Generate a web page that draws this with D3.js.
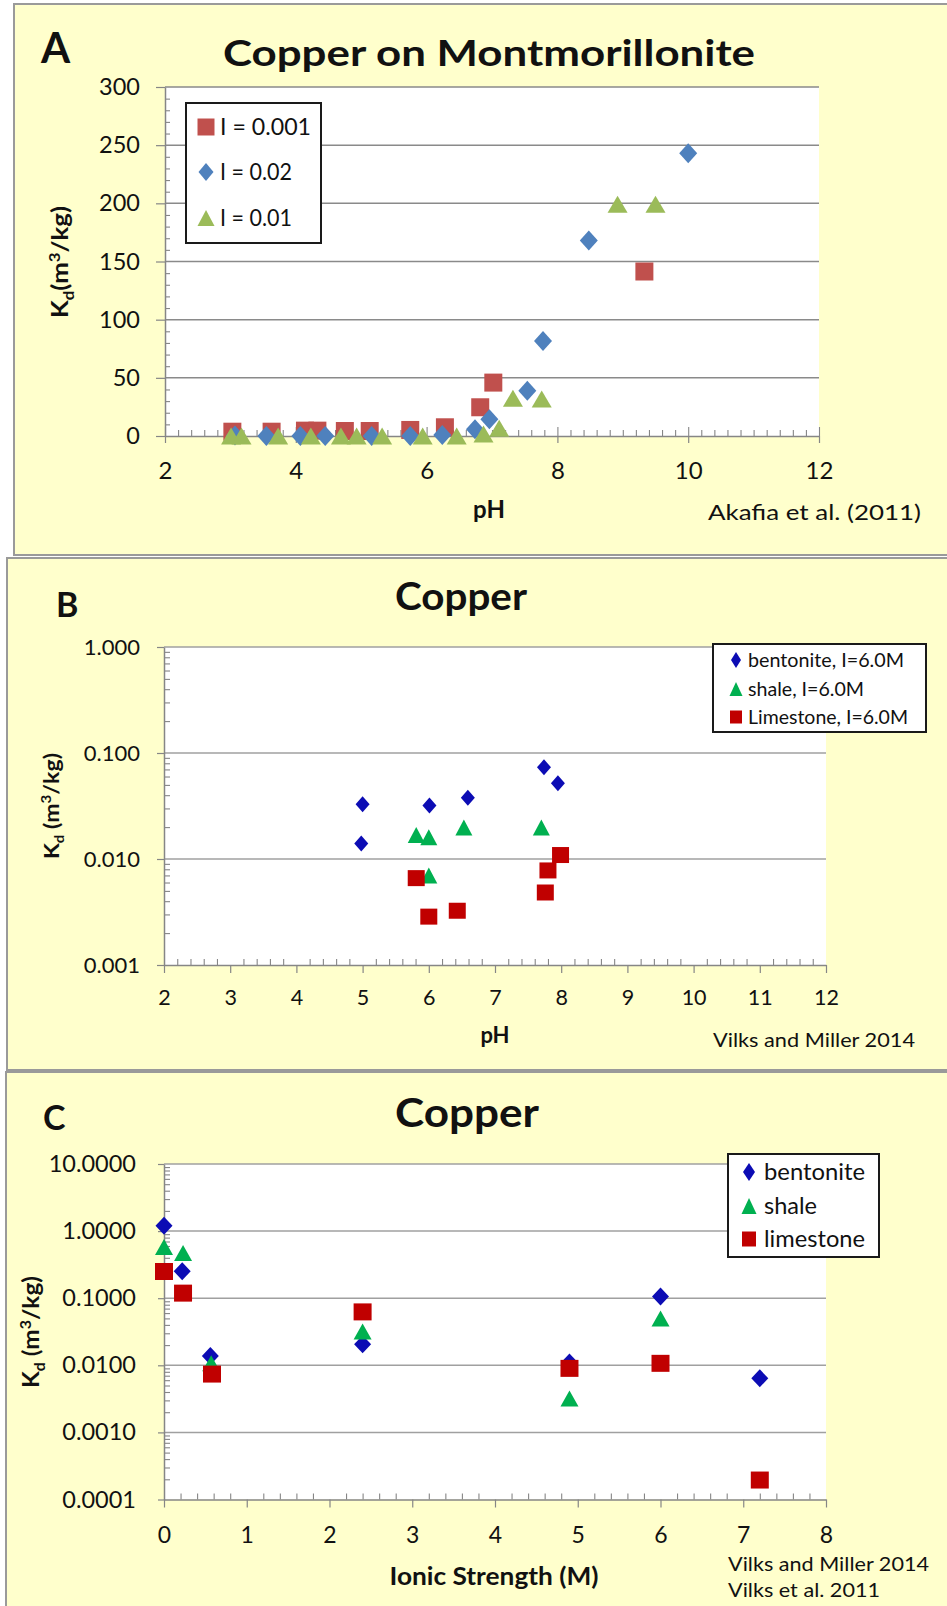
<!DOCTYPE html>
<html>
<head>
<meta charset="utf-8">
<script src="https://cdn.jsdelivr.net/npm/d3@7"></script>
<style>
  body { margin: 0; background: #ffffff; }
  svg { display: block; }
</style>
</head>
<body>
<svg id="fig" width="947" height="1606"></svg>
<script>
// ---------- Panel A: Copper on Montmorillonite (Akafia et al. 2011) ----------
const phA_I001 = [3.03, 3.63, 4.14, 4.33, 4.75, 5.13, 5.75, 6.28, 6.82, 7.02, 9.33];
const kdA_I001 = [3.7, 3.7, 4.6, 4.6, 4.3, 4.3, 5.2, 7.5, 24.7, 45.9, 141.4];
const phA_I002 = [3.07, 3.55, 4.07, 4.45, 5.16, 5.75, 6.24, 6.74, 6.96, 7.54, 7.78, 8.48, 10.0];
const kdA_I002 = [0.5, 0, 0, 0, 0, 0, 0.8, 5.7, 14.3, 39, 81.7, 168, 243];
const phA_I01 = [3.01, 3.17, 3.73, 4.23, 4.69, 4.93, 5.32, 5.94, 6.46, 6.87, 7.11, 7.32, 7.76, 8.92, 9.50];
const kdA_I01 = [0, 0, 0, 0, 0, 0, 0, 0, 0, 1.7, 6.6, 32.4, 31.8, 199.3, 199.3];
const xTicksA = [2, 4, 6, 8, 10, 12];
const yTicksA = [0, 50, 100, 150, 200, 250, 300];
const legendA = ["I = 0.001", "I = 0.02", "I = 0.01"];

// ---------- Panel B: Copper vs pH at I = 6.0 M (Vilks and Miller 2014) ----------
const phB_bentonite = [5.0, 4.98, 6.01, 6.59, 7.74, 7.95];
const kdB_bentonite = [0.0328, 0.0140, 0.0319, 0.0379, 0.0733, 0.0518];
const phB_shale = [5.81, 6.0, 6.53, 7.70, 6.0];
const kdB_shale = [0.0168, 0.0160, 0.0198, 0.0198, 0.0070];
const phB_limestone = [5.81, 6.0, 6.43, 7.76, 7.80, 7.99];
const kdB_limestone = [0.0066, 0.00286, 0.00325, 0.00483, 0.0078, 0.0109];
const xTicksB = [2, 3, 4, 5, 6, 7, 8, 9, 10, 11, 12];
const yTicksB = [0.001, 0.01, 0.1, 1];
const yLabelsB = ["0.001", "0.010", "0.100", "1.000"];
const legendB = ["bentonite, I=6.0M", "shale, I=6.0M", "Limestone, I=6.0M"];

// ---------- Panel C: Copper vs ionic strength ----------
const isC_bentonite = [0, 0.22, 0.56, 2.4, 4.9, 6.0, 7.2];
const kdC_bentonite = [1.2, 0.253, 0.0138, 0.0206, 0.011, 0.106, 0.0064];
const isC_shale = [0, 0.23, 0.57, 2.4, 4.9, 6.0];
const kdC_shale = [0.58, 0.47, 0.0107, 0.0318, 0.0032, 0.050];
const isC_limestone = [0, 0.23, 0.58, 2.4, 4.9, 6.0, 7.2];
const kdC_limestone = [0.25, 0.119, 0.0074, 0.0625, 0.009, 0.0107, 0.000195];
const xTicksC = [0, 1, 2, 3, 4, 5, 6, 7, 8];
const yTicksC = [0.0001, 0.001, 0.01, 0.1, 1, 10];
const yLabelsC = ["0.0001", "0.0010", "0.0100", "0.1000", "1.0000", "10.0000"];
const legendC = ["bentonite", "shale", "limestone"];

const FONT = "Lato, 'Open Sans', 'DejaVu Sans', sans-serif";
const BG = "#FFFFCC";
const AXIS = "#868686";
const GRID = "#A0A0A0";
const TXT = "#111111";

const svg = d3.select("#fig");
svg.append("rect").attr("width", 947).attr("height", 1606).attr("fill", "#ffffff");

// panel frames
[[14, 4, 960, 551], [7, 558, 960, 512], [6, 1072, 960, 560]].forEach(([x, y, w, h]) => {
  svg.append("rect").attr("x", x).attr("y", y).attr("width", w).attr("height", h)
    .attr("fill", BG).attr("stroke", "#9a9a9a").attr("stroke-width", 2);
});

function markerPath(shape, w, h) {
  const a = w / 2, b = h / 2;
  if (shape === "square") return `M${-a},${-b}H${a}V${b}H${-a}Z`;
  if (shape === "diamond") return `M0,${-b}L${a},0L0,${b}L${-a},0Z`;
  return `M0,${-b}L${a},${b}L${-a},${b}Z`;
}

function drawSeries(g, xs, ys, x, y, shape, w, h, color) {
  g.append("g").selectAll("path").data(d3.zip(xs, ys)).join("path")
    .attr("d", markerPath(shape, w, h))
    .attr("transform", d => `translate(${x(d[0])},${y(d[1])})`)
    .attr("fill", color);
}

function styleAxis(g, fs, weight) {
  g.attr("font-family", FONT).attr("font-size", fs);
  g.selectAll("path.domain").attr("stroke", AXIS).attr("stroke-width", 1.5);
  g.selectAll(".tick line").attr("stroke", AXIS).attr("stroke-width", 1.2);
  g.selectAll("text").attr("fill", TXT).attr("font-weight", weight || 400);
}

function minorAxis(g, axis) {
  g.call(axis);
  g.select("path.domain").remove();
  g.selectAll("text").remove();
  g.selectAll(".tick line").attr("stroke", AXIS).attr("stroke-width", 1.1);
}

function text(g, str, x, y, fs, opts = {}) {
  const t = g.append("text").attr("x", x).attr("y", y)
    .attr("font-family", FONT).attr("font-size", fs)
    .attr("font-weight", opts.weight || 400)
    .attr("fill", opts.fill || TXT)
    .attr("text-anchor", opts.anchor || "start")
    .text(str);
  if (opts.len) t.attr("textLength", opts.len).attr("lengthAdjust", "spacingAndGlyphs");
  return t;
}

// rotated "Kd (m3/kg)" with subscript/superscript
function kdLabel(g, cx, cy, fs, gap, len) {
  const t = g.append("text").attr("transform", `translate(${cx},${cy}) rotate(-90)`)
    .attr("text-anchor", "middle").attr("font-family", FONT).attr("font-size", fs)
    .attr("font-weight", 700).attr("fill", TXT)
    .attr("textLength", len).attr("lengthAdjust", "spacingAndGlyphs");
  t.append("tspan").text("K");
  t.append("tspan").attr("dy", fs * 0.25).attr("font-size", fs * 0.65).text("d");
  t.append("tspan").attr("dy", -fs * 0.25).text(gap + "(m");
  t.append("tspan").attr("dy", -fs * 0.38).attr("font-size", fs * 0.65).text("3");
  t.append("tspan").attr("dy", fs * 0.38).text("/kg)");
  return t;
}

function legendBox(g, x0, y0, w, h, entries, fs, textX) {
  g.append("rect").attr("x", x0).attr("y", y0).attr("width", w).attr("height", h)
    .attr("fill", "#ffffff").attr("stroke", "#1a1a1a").attr("stroke-width", 2);
  entries.forEach(e => {
    g.append("path").attr("d", markerPath(e.shape, e.w, e.h))
      .attr("transform", `translate(${e.mx},${e.y})`).attr("fill", e.color);
    text(g, e.label, textX, e.y + fs * 0.35, fs, e.len ? { len: e.len } : {});
  });
}

// =================== Panel A ===================
{
  const g = svg.append("g");
  const xA = d3.scaleLinear().domain([2, 12]).range([165, 819]);
  const yA = d3.scaleLinear().domain([0, 300]).range([436, 87]);

  g.append("rect").attr("x", xA(2)).attr("y", yA(300))
    .attr("width", xA(12) - xA(2)).attr("height", yA(0) - yA(300)).attr("fill", "#ffffff");

  g.append("g").selectAll("line").data(yTicksA.slice(1)).join("line")
    .attr("x1", xA(2)).attr("x2", xA(12)).attr("y1", d => yA(d)).attr("y2", d => yA(d))
    .attr("stroke", "#8a8a8a").attr("stroke-width", 1.5);

  const minorY = d3.range(10, 300, 10).filter(v => v % 50 !== 0);
  minorAxis(g.append("g").attr("transform", `translate(${xA(2)},0)`),
    d3.axisRight(yA).tickValues(minorY).tickSize(5));
  const minorX = d3.range(2.2, 12, 0.2).filter(v => Math.abs(v - Math.round(v / 2) * 2) > 0.01);
  minorAxis(g.append("g").attr("transform", `translate(0,${yA(0)})`),
    d3.axisTop(xA).tickValues(minorX).tickSize(6));
  minorAxis(g.append("g").attr("transform", `translate(0,${yA(0)})`),
    d3.axisTop(xA).tickValues(xTicksA).tickSize(9));

  const ay = g.append("g").attr("transform", `translate(${xA(2)},0)`)
    .call(d3.axisLeft(yA).tickValues(yTicksA).tickSize(9).tickSizeOuter(0).tickPadding(16));
  styleAxis(ay, 23.5);
  const ax = g.append("g").attr("transform", `translate(0,${yA(0)})`)
    .call(d3.axisBottom(xA).tickValues(xTicksA).tickSize(7).tickSizeOuter(0).tickPadding(19));
  styleAxis(ax, 24);

  drawSeries(g, phA_I001, kdA_I001, xA, yA, "square", 18, 18, "#C0504D");
  drawSeries(g, phA_I002, kdA_I002, xA, yA, "diamond", 18, 20, "#4F81BD");
  drawSeries(g, phA_I01, kdA_I01, xA, yA, "triangle", 20, 17, "#9BBB59");

  legendBox(g, 186, 103, 135, 140, [
    { shape: "square", w: 17, h: 17, color: "#C0504D", mx: 206, y: 127, label: legendA[0], len: 91 },
    { shape: "diamond", w: 15, h: 18, color: "#4F81BD", mx: 206, y: 172, label: legendA[1], len: 72 },
    { shape: "triangle", w: 17, h: 16, color: "#9BBB59", mx: 206, y: 218, label: legendA[2], len: 72 }
  ], 23, 220);

  text(g, "A", 41, 63, 42, { weight: 700 });
  text(g, "Copper on Montmorillonite", 489, 66, 36, { weight: 700, anchor: "middle", len: 532 });
  text(g, "pH", 489, 518, 24, { weight: 700, anchor: "middle" });
  text(g, "Akafia et al. (2011)", 708, 520, 22, { len: 213 });
  kdLabel(g, 68, 262, 22, "", 112);
}

// =================== Panel B ===================
{
  const g = svg.append("g");
  const xB = d3.scaleLinear().domain([2, 12]).range([164, 826]);
  const yB = d3.scaleLog().domain([0.001, 1]).range([965, 647]);

  g.append("rect").attr("x", xB(2)).attr("y", yB(1))
    .attr("width", xB(12) - xB(2)).attr("height", yB(0.001) - yB(1)).attr("fill", "#ffffff");

  g.append("g").selectAll("line").data(yTicksB.slice(1)).join("line")
    .attr("x1", xB(2)).attr("x2", xB(12)).attr("y1", d => yB(d)).attr("y2", d => yB(d))
    .attr("stroke", GRID).attr("stroke-width", 1.5);

  const minorY = [];
  [0.001, 0.01, 0.1].forEach(p => d3.range(2, 10).forEach(k => minorY.push(k * p)));
  minorAxis(g.append("g").attr("transform", `translate(${xB(2)},0)`),
    d3.axisRight(yB).tickValues(minorY).tickSize(6));
  const minorX = d3.range(2.2, 12, 0.2).filter(v => Math.abs(v - Math.round(v)) > 0.01);
  minorAxis(g.append("g").attr("transform", `translate(0,${yB(0.001)})`),
    d3.axisTop(xB).tickValues(minorX).tickSize(6));

  const ay = g.append("g").attr("transform", `translate(${xB(2)},0)`)
    .call(d3.axisLeft(yB).tickValues(yTicksB).tickSize(7).tickSizeOuter(0).tickPadding(17)
      .tickFormat((d, i) => yLabelsB[i]));
  styleAxis(ay, 22);
  const ax = g.append("g").attr("transform", `translate(0,${yB(0.001)})`)
    .call(d3.axisBottom(xB).tickValues(xTicksB).tickSize(8).tickSizeOuter(0).tickPadding(17));
  styleAxis(ax, 21.5);

  drawSeries(g, phB_bentonite, kdB_bentonite, xB, yB, "diamond", 14, 16, "#0C0CB4");
  drawSeries(g, phB_shale, kdB_shale, xB, yB, "triangle", 17, 16, "#00B050");
  drawSeries(g, phB_limestone, kdB_limestone, xB, yB, "square", 17, 16, "#C00000");

  legendBox(g, 713, 644, 213, 88, [
    { shape: "diamond", w: 10, h: 16, color: "#0C0CB4", mx: 736, y: 660, label: legendB[0], len: 156 },
    { shape: "triangle", w: 13, h: 14, color: "#00B050", mx: 736, y: 689, label: legendB[1], len: 116 },
    { shape: "square", w: 12, h: 13, color: "#C00000", mx: 736, y: 717, label: legendB[2], len: 160 }
  ], 19, 748);

  text(g, "B", 56, 617, 34, { weight: 700 });
  text(g, "Copper", 461, 610, 38, { weight: 700, anchor: "middle", len: 132 });
  text(g, "pH", 495, 1043, 22, { weight: 700, anchor: "middle" });
  text(g, "Vilks and Miller 2014", 713, 1047, 20, { len: 202 });
  kdLabel(g, 58.5, 806, 21, " ", 106);
}

// =================== Panel C ===================
{
  const g = svg.append("g");
  const xC = d3.scaleLinear().domain([0, 8]).range([164, 826]);
  const yC = d3.scaleLog().domain([0.0001, 10]).range([1499.5, 1164]);

  g.append("rect").attr("x", xC(0)).attr("y", yC(10))
    .attr("width", xC(8) - xC(0)).attr("height", yC(0.0001) - yC(10)).attr("fill", "#ffffff");

  g.append("g").selectAll("line").data(yTicksC.slice(1)).join("line")
    .attr("x1", xC(0)).attr("x2", xC(8)).attr("y1", d => yC(d)).attr("y2", d => yC(d))
    .attr("stroke", GRID).attr("stroke-width", 1.5);

  const minorY = [];
  [0.0001, 0.001, 0.01, 0.1, 1].forEach(p => d3.range(2, 10).forEach(k => minorY.push(k * p)));
  minorAxis(g.append("g").attr("transform", `translate(${xC(0)},0)`),
    d3.axisRight(yC).tickValues(minorY).tickSize(6));
  const minorX = d3.range(0.2, 8, 0.2).filter(v => Math.abs(v - Math.round(v)) > 0.01);
  minorAxis(g.append("g").attr("transform", `translate(0,${yC(0.0001)})`),
    d3.axisTop(xC).tickValues(minorX).tickSize(6));

  const ay = g.append("g").attr("transform", `translate(${xC(0)},0)`)
    .call(d3.axisLeft(yC).tickValues(yTicksC).tickSize(6).tickSizeOuter(0).tickPadding(22)
      .tickFormat((d, i) => yLabelsC[i]));
  styleAxis(ay, 23.5);
  const ax = g.append("g").attr("transform", `translate(0,${yC(0.0001)})`)
    .call(d3.axisBottom(xC).tickValues(xTicksC).tickSize(8).tickSizeOuter(0).tickPadding(19));
  styleAxis(ax, 23);

  drawSeries(g, isC_bentonite, kdC_bentonite, xC, yC, "diamond", 17, 18, "#0C0CB4");
  drawSeries(g, isC_shale, kdC_shale, xC, yC, "triangle", 18, 16, "#00B050");
  drawSeries(g, isC_limestone, kdC_limestone, xC, yC, "square", 18, 17, "#C00000");

  legendBox(g, 728, 1154, 151, 103, [
    { shape: "diamond", w: 12, h: 18, color: "#0C0CB4", mx: 749, y: 1172, label: legendC[0], len: 101 },
    { shape: "triangle", w: 15, h: 16, color: "#00B050", mx: 749, y: 1206, label: legendC[1], len: 53 },
    { shape: "square", w: 14, h: 15, color: "#C00000", mx: 749, y: 1239, label: legendC[2], len: 101 }
  ], 23, 764);

  text(g, "C", 43, 1130, 34, { weight: 700 });
  text(g, "Copper", 467, 1127, 40, { weight: 700, anchor: "middle", len: 144 });
  text(g, "Ionic Strength (M)", 494, 1585, 24, { weight: 700, anchor: "middle", len: 209 });
  text(g, "Vilks and Miller 2014", 728, 1571, 20, { len: 201 });
  text(g, "Vilks et al. 2011", 728, 1597, 20, { len: 152 });
  kdLabel(g, 39, 1332, 22, " ", 112);
}
</script>
</body>
</html>
